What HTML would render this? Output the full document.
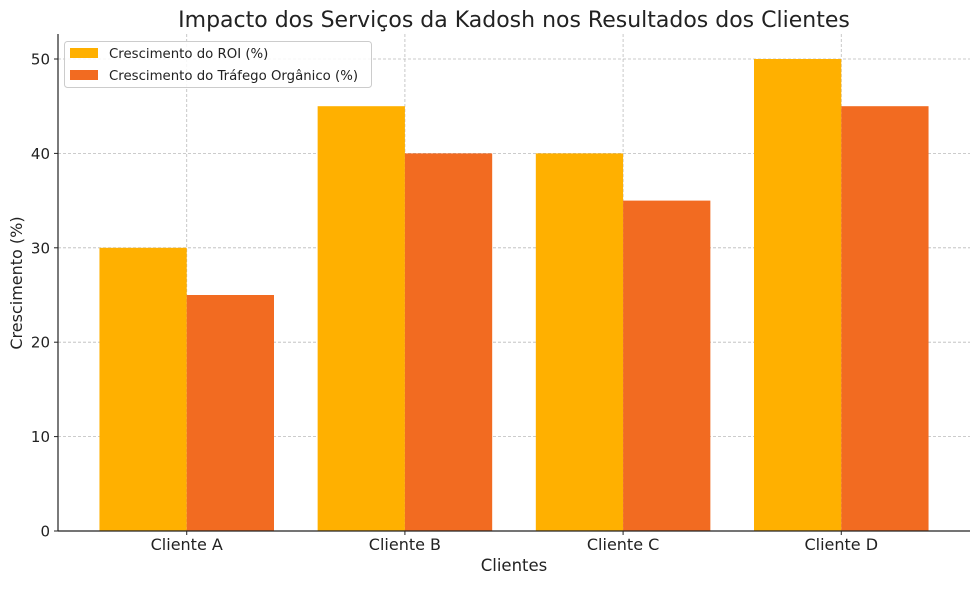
<!DOCTYPE html>
<html><head><meta charset="utf-8"><style>
body{margin:0;background:#fff;font-family:"Liberation Sans","DejaVu Sans",sans-serif}
</style></head><body>
<svg width="980" height="584" xmlns="http://www.w3.org/2000/svg" font-family="DejaVu Sans, Liberation Sans, sans-serif">
<text x="514" y="27" text-anchor="middle" font-size="22" fill="#222">Impacto dos Serviços da Kadosh nos Resultados dos Clientes</text>
<g id="grid"></g><g id="bars"></g><g id="axes"></g>
<text x="514" y="571" text-anchor="middle" font-size="16.5" fill="#222">Clientes</text>
<text transform="translate(22,283) rotate(-90)" text-anchor="middle" font-size="16" fill="#222">Crescimento (%)</text>
<g>
<rect x="64.5" y="41.5" width="307" height="46" rx="3" fill="#fff" fill-opacity="0.85" stroke="#ccc"/>
<rect x="70" y="48" width="28" height="10" fill="#FFB000"/>
<text x="109" y="58" font-size="13.3" fill="#222">Crescimento do ROI (%)</text>
<rect x="70" y="70" width="28" height="10" fill="#F26B21"/>
<text x="109" y="80" font-size="13.3" fill="#222">Crescimento do Tráfego Orgânico (%)</text>
</g>
</svg>
<script>
const categories=["Cliente A","Cliente B","Cliente C","Cliente D"];
const roi=[30,45,40,50];
const organico=[25,40,35,45];
const yTicks=[0,10,20,30,40,50];
const NS="http://www.w3.org/2000/svg";
const L=58,R=970,T=34,B=531;
const x=i=>L+(i+0.59)*(R-L)/4.18;
const bw=0.4*(R-L)/4.18;
const y=v=>B-v*(B-59)/50;
function mk(p,t,a){const e=document.createElementNS(NS,t);for(const k in a)e.setAttribute(k,a[k]);document.getElementById(p).appendChild(e);return e;}
yTicks.forEach(v=>{
 const g=mk('grid','line',{x1:L,x2:R,y1:y(v),y2:y(v),stroke:'#bbb','stroke-dasharray':'3,2','stroke-width':0.8});
 
 
 const tk=mk('axes','line',{x1:L-4,x2:L,y1:y(v),y2:y(v),stroke:'#222'});
 
 
 const t=mk('axes','text',{x:L-8,y:y(v)+5.5,'text-anchor':'end','font-size':15,fill:'#222'});
 t.textContent=v;
 
 
});
categories.forEach((c,i)=>{
 const g=mk('grid','line',{x1:x(i),x2:x(i),y1:T,y2:B,stroke:'#bbb','stroke-dasharray':'3,2','stroke-width':0.8});
 
 
 const b1=mk('bars','rect',{x:x(i)-bw,y:y(roi[i]),width:bw,height:B-y(roi[i]),fill:'#FFB000'});
 
 
 const b2=mk('bars','rect',{x:x(i),y:y(organico[i]),width:bw,height:B-y(organico[i]),fill:'#F26B21'});
 
 
 const tk=mk('axes','line',{x1:x(i),x2:x(i),y1:B,y2:B+4,stroke:'#222'});
 
 
 const t=mk('axes','text',{x:x(i),y:B+19,'text-anchor':'middle','font-size':16,fill:'#222'});
 t.textContent=c;
 
 
});
const s1=mk('axes','line',{x1:L,x2:L,y1:T,y2:B,stroke:'#222','stroke-width':1.2});


const s2=mk('axes','line',{x1:L,x2:R,y1:B,y2:B,stroke:'#222','stroke-width':1.2});


</script>
</body></html>
